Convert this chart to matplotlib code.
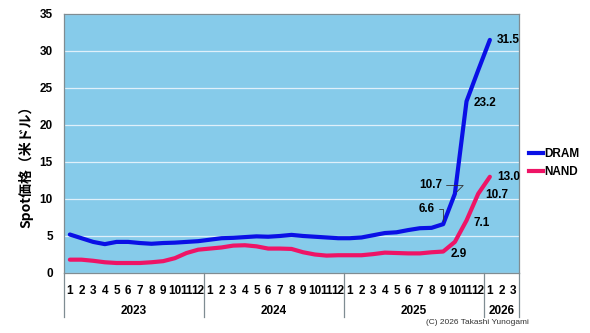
import matplotlib
matplotlib.use("Agg")
import matplotlib.pyplot as plt
from matplotlib.lines import Line2D

plt.rcParams['font.family'] = ['Liberation Sans Narrow', 'Liberation Sans', 'DejaVu Sans']
plt.rcParams['font.weight'] = 'bold'

# monthly spot prices, 2023-01 .. 2026-01
years = ["2023", "2024", "2025", "2026"]
months_per_year = [12, 12, 12, 3]
dram = [5.2, 4.7, 4.2, 3.9, 4.2, 4.2, 4.05, 3.95, 4.05, 4.1, 4.2, 4.3,
        4.5, 4.7, 4.75, 4.85, 4.95, 4.9, 5.0, 5.15, 5.0, 4.9, 4.8, 4.7,
        4.7, 4.8, 5.1, 5.4, 5.5, 5.8, 6.05, 6.1, 6.6, 10.7, 23.2, 27.4,
        31.5]
nand = [1.8, 1.8, 1.65, 1.45, 1.35, 1.35, 1.35, 1.45, 1.6, 2.0, 2.7, 3.15,
        3.3, 3.45, 3.7, 3.75, 3.6, 3.3, 3.3, 3.25, 2.8, 2.5, 2.35, 2.4,
        2.4, 2.4, 2.55, 2.75, 2.7, 2.65, 2.65, 2.8, 2.9, 4.2, 7.1, 10.7,
        13.0]

month_labels = []
for n in months_per_year:
    month_labels += [str(m) for m in range(1, n + 1)]

fig = plt.figure(figsize=(5.9, 3.33), dpi=100)
ax = fig.add_axes([0.1085, 0.1802, 0.7712, 0.7778])
ax.set_facecolor('#86cbea')

x = list(range(len(dram)))
ax.plot(x, dram, color='#0a10e6', lw=3, solid_capstyle='round', zorder=3)
ax.plot(x, nand, color='#ee1466', lw=3, solid_capstyle='round', zorder=3)

ax.set_xlim(-0.5, len(month_labels) - 0.5)
ax.set_ylim(0, 35)
ax.set_yticks(range(0, 36, 5))
ax.tick_params(axis='y', length=0, pad=8, labelsize=8.5)
ax.set_xticks(range(len(month_labels)))
ax.set_xticklabels(month_labels)
ax.tick_params(axis='x', length=0, pad=9, labelsize=8.5)
ax.grid(axis='y', color='#dff0fa', lw=0.9)
ax.set_axisbelow(True)
for s in ax.spines.values():
    s.set_color('#7f8c92')
    s.set_linewidth(0.9)

ax.set_ylabel('Spot価格（米ドル）', family=['Noto Sans CJK JP', 'DejaVu Sans'],
              fontsize=10, fontweight='bold')
ax.yaxis.set_label_coords(-0.068, 0.425)

# year labels and separators
trans = ax.get_xaxis_transform()
start = 0
bounds = [-0.5]
for yr, n in zip(years, months_per_year):
    ax.text(start + n / 2 - 0.5, -0.145, yr, transform=trans, ha='center',
            va='center', fontsize=8.5)
    start += n
    bounds.append(start - 0.5)
for b in bounds:
    ax.add_line(Line2D([b, b], [0, -0.17], transform=trans, color='#7f8c92',
                       lw=0.9, clip_on=False))

# value labels
def lab(i, v, series_y, dx=5, dy=0):
    ax.annotate(v, (i, series_y[i]), xytext=(dx, dy), textcoords='offset points',
                ha='left', va='center', fontsize=8.5)

lab(36, '31.5', dram)
lab(34, '23.2', dram, dy=-1)
lab(36, '13.0', nand)
lab(35, '10.7', nand, dy=-1)
lab(34, '7.1', nand, dy=-1.5)
lab(32, '2.9', nand, dy=-1.5)

ax.annotate('6.6', (32, dram[32]), xytext=(-6, 11), textcoords='offset points',
            ha='right', va='center', fontsize=8.5,
            arrowprops=dict(arrowstyle='-', color='#333333', lw=0.6,
                            connectionstyle='angle,angleA=0,angleB=90,rad=0',
                            shrinkA=1, shrinkB=2))
ax.annotate('10.7', (33, dram[33]), xytext=(-9, 6), textcoords='offset points',
            ha='right', va='center', fontsize=8.5,
            arrowprops=dict(arrowstyle='-', color='#333333', lw=0.6,
                            connectionstyle='angle,angleA=0,angleB=45,rad=0',
                            shrinkA=1, shrinkB=2))

handles = [Line2D([], [], color='#0a10e6', lw=3),
           Line2D([], [], color='#ee1466', lw=3)]
fig.legend(handles, ['DRAM', 'NAND'], loc='center left',
           bbox_to_anchor=(0.897, 0.51), frameon=False, handlelength=1.2,
           handletextpad=0.05, labelspacing=0.5, fontsize=8.5,
           borderpad=0, borderaxespad=0)

fig.text(0.897, 0.032, '(C) 2026 Takashi Yunogami', ha='right', va='center',
         fontsize=6, fontweight='normal', color='#333333')

fig.savefig('out.png', dpi=100)
